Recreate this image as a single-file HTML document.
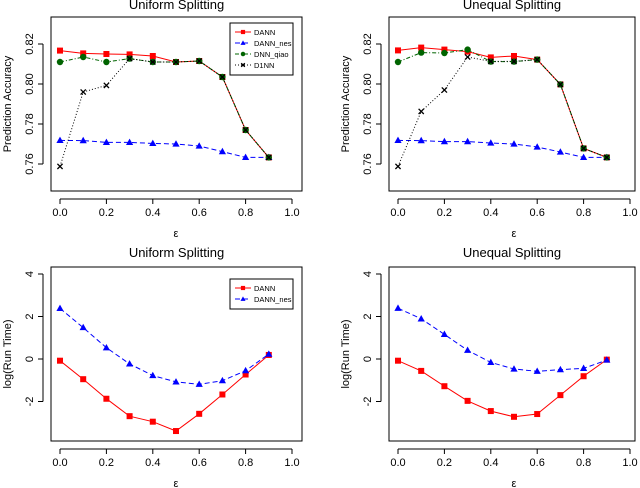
<!DOCTYPE html>
<html><head><meta charset="utf-8"><style>
body{margin:0;background:#fff;}
svg{display:block;font-family:"Liberation Sans",sans-serif;}
</style></head><body>
<svg id="c" width="640" height="488" viewBox="0 0 640 488"></svg>
<script>
const xs=[0,0.1,0.2,0.3,0.4,0.5,0.6,0.7,0.8,0.9];
const xTicks=["0.0","0.2","0.4","0.6","0.8","1.0"];
const accTicks=[0.76,0.78,0.80,0.82];
const timeTicks=[-2,0,2,4];
const uDANN=[0.8167,0.8153,0.815,0.8148,0.814,0.811,0.8115,0.8035,0.777,0.7633];
const uNES=[0.7718,0.7717,0.7708,0.7708,0.7703,0.770,0.769,0.7662,0.7633,0.7633];
const uQIAO=[0.811,0.8135,0.811,0.8127,0.811,0.811,0.8115,0.8035,0.777,0.7633];
const uD1NN=[0.7588,0.796,0.7993,0.8127,0.811,0.811,0.8115,0.8035,0.777,0.7633];
const eDANN=[0.8168,0.8182,0.8172,0.8162,0.8133,0.814,0.8122,0.7998,0.7678,0.7633];
const eNES=[0.7718,0.7717,0.7712,0.7712,0.7705,0.770,0.7685,0.766,0.7633,0.7633];
const eQIAO=[0.811,0.8157,0.8155,0.8172,0.8112,0.8112,0.8122,0.7998,0.7678,0.7633];
const eD1NN=[0.7588,0.7863,0.797,0.8135,0.8113,0.8113,0.8122,0.7998,0.7678,0.7633];
const utDANN=[-0.08,-0.95,-1.87,-2.69,-2.95,-3.39,-2.58,-1.67,-0.73,0.19];
const utNES=[2.38,1.48,0.53,-0.23,-0.78,-1.08,-1.19,-1.02,-0.55,0.23];
const etDANN=[-0.08,-0.56,-1.28,-1.97,-2.45,-2.72,-2.59,-1.70,-0.81,-0.03];
const etNES=[2.39,1.89,1.16,0.41,-0.16,-0.47,-0.58,-0.50,-0.44,-0.05];

const svg=document.getElementById('c');
const NS='http://www.w3.org/2000/svg';
function el(tag,attrs,parent,text){const e=document.createElementNS(NS,tag);for(const k in attrs)e.setAttribute(k,attrs[k]);if(text!=null)e.textContent=text;(parent||svg).appendChild(e);return e;}

function panel(o){
  const g=el('g',{});
  
  
  const X=v=>o.x0+(o.x1-o.x0)*v;
  const Y=v=>o.yA+(v-o.vA)*(o.yB-o.yA)/(o.vB-o.vA);
  const box=el('rect',{x:o.bx0,y:o.by0,width:o.bx1-o.bx0,height:o.by1-o.by0,fill:'none',stroke:'#000','stroke-width':1},g);
  
  const t=el('text',{x:(o.bx0+o.bx1)/2,y:o.ty,'text-anchor':'middle','font-size':13},g,o.title);
  
  // x axis
  const ax=el('line',{x1:X(0),x2:X(1),y1:o.by1+8,y2:o.by1+8,stroke:'#000'},g);
  
  xTicks.forEach(s=>{const v=parseFloat(s);
    el('line',{x1:X(v),x2:X(v),y1:o.by1+8,y2:o.by1+13,stroke:'#000'},g);
    const tl=el('text',{x:X(v),y:o.by1+25,'text-anchor':'middle','font-size':11},g,s);
    });
  const xl=el('text',{x:(X(0)+X(1))/2,y:o.by1+46,'text-anchor':'middle','font-size':11},g,'ε');
  
  // y axis
  const ayx=o.bx0-8;
  const ay=el('line',{x1:ayx,x2:ayx,y1:Y(o.ticks[0]),y2:Y(o.ticks[o.ticks.length-1]),stroke:'#000'},g);
  
  o.ticks.forEach(v=>{
    el('line',{x1:ayx-5,x2:ayx,y1:Y(v),y2:Y(v),stroke:'#000'},g);
    const s=o.fmt(v);const tx=ayx-10;
    const tl=el('text',{x:tx,y:Y(v),'text-anchor':'middle','font-size':11,transform:`rotate(-90 ${tx} ${Y(v)})`},g,s);
    });
  const yx=o.bx0-40,ym=(o.by0+o.by1)/2;
  const yl=el('text',{x:yx,y:ym,'text-anchor':'middle','font-size':11,transform:`rotate(-90 ${yx} ${ym})`},g,o.ylabel);
  
  // series
  o.series.forEach(s=>{
    const sg=el('g',{},g);
    
    const pts=s.data.map((v,i)=>X(xs[i]).toFixed(1)+','+Y(v).toFixed(1)).join(' ');
    el('polyline',{points:pts,fill:'none',stroke:s.color,'stroke-width':1,'stroke-dasharray':s.dash||'none'},sg);
    s.data.forEach((v,i)=>{const m=marker(s.pch,X(xs[i]),Y(v),s.color,sg);
      });
  });
  // legend
  const lg=el('g',{},g);
  
  const lh=8+o.series.length*11;
  el('rect',{x:o.lx,y:o.ly,width:63,height:lh,fill:'#fff',stroke:'#000'},lg);
  o.series.forEach((s,i)=>{const yy=o.ly+9+i*11;
    el('line',{x1:o.lx+5,x2:o.lx+21,y1:yy,y2:yy,stroke:s.color,'stroke-dasharray':s.dash||'none'},lg);
    marker(s.pch,o.lx+13,yy,s.color,lg,0.7);
    const lt=el('text',{x:o.lx+24,y:yy+3,'font-size':7.5},lg,s.label);
    });
}
function marker(p,x,y,c,parent,sc){sc=sc||1;
  if(p==='sq')return el('rect',{x:x-3*sc,y:y-3*sc,width:6*sc,height:6*sc,fill:c},parent);
  if(p==='tri')return el('polygon',{points:`${x},${y-3.8*sc} ${x-3.6*sc},${y+2.6*sc} ${x+3.6*sc},${y+2.6*sc}`,fill:c},parent);
  if(p==='dot')return el('circle',{cx:x,cy:y,r:3.2*sc,fill:c},parent);
  const g=el('g',{},parent);const d=2.6*sc;
  el('line',{x1:x-d,y1:y-d,x2:x+d,y2:y+d,stroke:c,'stroke-width':1.3},g);
  el('line',{x1:x-d,y1:y+d,x2:x+d,y2:y-d,stroke:c,'stroke-width':1.3},g);return g;}
const f2=v=>v.toFixed(2), f0=v=>String(v);
const accSeries=(a,b,c,d)=>[
 {key:'dann',label:'DANN',data:a,color:'#ff0000',pch:'sq'},
 {key:'dann-nes',label:'DANN_nes',data:b,color:'#0000ff',pch:'tri',dash:'5,3'},
 {key:'dnn-qiao',label:'DNN_qiao',data:c,color:'#006400',pch:'dot',dash:'4,2,1,2'},
 {key:'d1nn',label:'D1NN',data:d,color:'#000000',pch:'x',dash:'1,2'}];
const timeSeries=(a,b)=>[
 {key:'dann',label:'DANN',data:a,color:'#ff0000',pch:'sq'},
 {key:'dann-nes',label:'DANN_nes',data:b,color:'#0000ff',pch:'tri',dash:'5,3'}];
const acc={vA:0.82,yA:44,vB:0.76,yB:164,ticks:accTicks,fmt:f2,ylabel:'Prediction Accuracy',by0:17,by1:191,ty:9,ly:23};
const tim={vA:0,yA:359,vB:4,yB:274,ticks:timeTicks,fmt:f0,ylabel:'log(Run Time)',by0:267,by1:441,ty:257,ly:279};
const L={bx0:51,bx1:302,x0:60,x1:292,lx:230}, R={bx0:389,bx1:635,x0:398,x1:630,lx:568};
panel(Object.assign({},acc,L,{name:'panel-accuracy-uniform',title:'Uniform Splitting',series:accSeries(uDANN,uNES,uQIAO,uD1NN)}));
panel(Object.assign({},acc,R,{name:'panel-accuracy-unequal',title:'Unequal Splitting',series:accSeries(eDANN,eNES,eQIAO,eD1NN),lx:1000}));
panel(Object.assign({},tim,L,{name:'panel-runtime-uniform',title:'Uniform Splitting',series:timeSeries(utDANN,utNES)}));
panel(Object.assign({},tim,R,{name:'panel-runtime-unequal',title:'Unequal Splitting',series:timeSeries(etDANN,etNES),lx:1000}));
</script>
</body></html>
